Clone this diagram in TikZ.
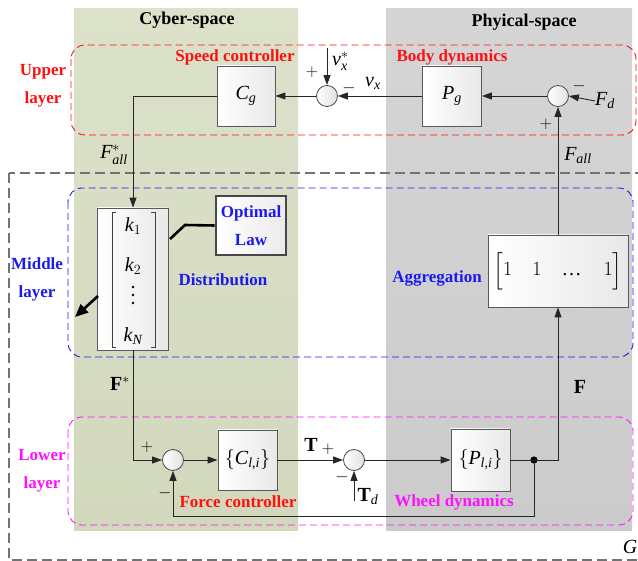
\documentclass[tikz,border=0pt]{standalone}
\usepackage{fix-cm}
\usepackage{amsmath}
\usepackage{fontspec}
\setmainfont{Liberation Serif}
\DeclareSymbolFont{letters}{TU}{\rmdefault}{m}{it}
\DeclareSymbolFont{operators}{TU}{\rmdefault}{m}{n}
\DeclareMathAlphabet{\mathbf}{TU}{\rmdefault}{b}{n}
\newcommand\mcomma{\mathchar"602C}
\usetikzlibrary{arrows.meta,calc}
\definecolor{cybtop}{HTML}{DCE1CA}
\definecolor{cybbot}{HTML}{D2D8BC}
\definecolor{phytop}{HTML}{D5D5D5}
\definecolor{phybot}{HTML}{CBCBCB}
\definecolor{lblred}{HTML}{FF1010}
\definecolor{lblblue}{HTML}{1A1AF0}
\definecolor{lblmag}{HTML}{FF10FF}
\newcommand\mfs{\fontsize{20}{24}\selectfont}
\newcommand\lfs{\fontsize{17}{28}\selectfont}
\begin{document}
\begin{tikzpicture}[x=1pt,y=-1pt,
  titlelbl/.style={font=\bfseries\fontsize{18}{22}\selectfont, inner sep=0pt},
  lbl/.style={font=\bfseries\lfs, inner sep=0pt, align=center},
  mlbl/.style={font=\mfs, inner sep=0pt},
  slbl/.style={font=\fontsize{17}{20}\selectfont, inner sep=0pt},
  blockbox/.style={draw=black!65, line width=0.8pt, left color=white, right color=black!9,
     inner sep=0pt, font=\mfs},
  sumj/.style={circle, draw=black!70, line width=0.8pt, left color=white, right color=black!12,
     minimum size=21pt, inner sep=0pt},
  conn/.style={draw=black!85, line width=0.9pt},
  arr/.style={conn, -{Triangle[length=10pt,width=7pt]}},
  layerbox/.style={dashed, dash pattern=on 7pt off 4pt, line width=0.9pt, rounded corners=14pt},
  gbox/.style={draw=black!55, line width=1.1pt, dash pattern=on 10pt off 5pt},
  brk/.style={draw=black!75, line width=0.8pt}
]
\useasboundingbox (0,0) rectangle (638,561);
% backgrounds
\shade[top color=cybtop,bottom color=cybbot] (74,9) rectangle (298,531);
\shade[top color=phytop,bottom color=phybot] (386,9) rectangle (632,531);
\node[titlelbl] (tcyber) at (187,20) {Cyber-space};
\node[titlelbl] (tphy) at (524,22) {Phyical-space};
% outer G box
\draw[gbox] (9,173) rectangle (660,560);
\node[mlbl] (glbl) at (630,547) {$G$};
% layer boxes
\draw[layerbox,draw=lblred] (71,45) rectangle (636,135);
\draw[layerbox,draw=lblblue] (68,188) rectangle (633,357);
\draw[layerbox,draw=lblmag] (68,417) rectangle (633,525);
% layer labels
\node[lbl,text=lblred] (lup) at (43,86) {Upper\\layer};
\node[lbl,text=lblblue] (lmid) at (37,279) {Middle\\layer};
\node[lbl,text=lblmag] (llow) at (42,471) {Lower\\layer};
% other labels
\node[lbl,text=lblred] (tspeed) at (235,57) {Speed controller};
\node[lbl,text=lblred] (tbody) at (452,57) {Body dynamics};
\node[lbl,text=lblblue] (tdist) at (223,280) {Distribution};
\node[lbl,text=lblblue] (tagg) at (437,278) {Aggregation};
\node[lbl,text=lblred] (tforce) at (238,502) {Force controller};
\node[lbl,text=lblmag] (twheel) at (454,502) {Wheel dynamics};
% upper blocks
\node[blockbox, minimum width=58pt, minimum height=60pt] (cg) at (246,96) {$C_g$};
\node[blockbox, minimum width=59pt, minimum height=60pt] (pg) at (452,96) {$P_g$};
\node[sumj] (s1) at (327,96) {};
\node[sumj] (s2) at (558,96) {};
% middle blocks
\node[blockbox, minimum width=71pt, minimum height=142pt] (kbox) at (133,279) {};
\node[mlbl] (k1) at (133,226) {$k_1$};
\node[mlbl] (k2) at (133,266) {$k_2$};
\fill[black] (133,287) circle (1.4pt) (133,295) circle (1.4pt) (133,303) circle (1.4pt);
\node[mlbl] (kn) at (133,336) {$k_N$};
\draw[brk] (116,212) -- (112,212) -- (112,347) -- (116,347);
\draw[brk] (151,212) -- (155,212) -- (155,347) -- (151,347);
\node[draw=black!72, line width=2.6pt, left color=white, right color=black!8, minimum width=70pt, minimum height=59pt,
   inner sep=0pt, font=\bfseries\fontsize{17}{28}\selectfont, text=lblblue, align=center] (opt) at (251,225.5) {Optimal\\Law};
\node[blockbox, minimum width=140pt, minimum height=72pt] (agg) at (558,271)
   {$\Bigl[1\hspace{20pt}1\hspace{20pt}\mbox{\textellipsis}\hspace{22pt}1\Bigr]$};
% lower blocks
\node[blockbox, minimum width=59pt, minimum height=60pt] (cl) at (247.5,460) {$\left\{C_{l\mcomma i}\right\}$};
\node[blockbox, minimum width=59pt, minimum height=62pt] (pl) at (480.5,460) {$\left\{P_{l\mcomma i}\right\}$};
\node[sumj] (s3) at (173,460) {};
\node[sumj] (s4) at (354,460) {};
\fill[black] (534,460) circle (3.6pt) coordinate (dot);
% coordinates for free ends
\coordinate (vxin) at (327,48);
\coordinate (tdin) at (354,501);
\coordinate (kopt) at (170,239);
\coordinate (kbend) at (185,225);
\coordinate (thkA) at (98,296);
\coordinate (thkB) at (75,317);
\coordinate (fbot) at (534,516);
% labels
\node[mlbl, anchor=west] (fd) at (595,101) {$F_d$};
\node[mlbl, anchor=west] (vxs) at (332,61) {$v_x^{*}$};
\node[mlbl] (vx) at (373,83) {$v_x$};
\node[slbl] (p1) at (312,72) {$+$};
\node[slbl] (m1) at (349,88) {$-$};
\node[slbl] (m2) at (579,86) {$-$};
\node[slbl] (p2) at (546,124) {$+$};
\node[mlbl] (fall) at (578,156) {$F_{all}$};
\node[mlbl] (falls) at (114,155) {$F_{all}^{*}$};
\node[mlbl] (fstar) at (120,384) {$\mathbf{F}^{*}$};
\node[mlbl] (fvec) at (580,387) {$\mathbf{F}$};
\node[slbl] (p3) at (147,447) {$+$};
\node[slbl] (m3) at (165,493) {$-$};
\node[mlbl] (tvec) at (311,445) {$\mathbf{T}$};
\node[slbl] (p4) at (328,449) {$+$};
\node[slbl] (m4) at (342,477) {$-$};
\node[mlbl] (tdl) at (368,497) {$\mathbf{T}_d$};
% connectors upper
\draw[arr] (fd.west) -- (s2.east);
\draw[arr] (s2.west) -- (pg.east);
\draw[arr] (pg.west) -- (s1.east);
\draw[arr] (s1.west) -- (cg.east);
\draw[arr] (vxin) -- (s1.north);
\draw[arr] (cg.west) -| (kbox.north);
\draw[arr] (agg.north) -- (s2.south);
% middle
\draw[draw=black, line width=2.6pt] (kopt) -- (kbend) -- (opt.west);
\draw[draw=black, line width=2.6pt, -{Triangle[length=13pt,width=11pt]}] (thkA) -- (thkB);
% lower
\draw[arr] (kbox.south) |- (s3.west);
\draw[arr] (s3.east) -- (cl.west);
\draw[arr] (cl.east) -- (s4.west);
\draw[arr] (s4.east) -- (pl.west);
\draw[arr] (tdin) -- (s4.south);
\draw[conn] (pl.east) -- (dot);
\draw[arr] (dot) -| (agg.south);
\draw[arr] (dot) -- (fbot) -| (s3.south);
\end{tikzpicture}
\end{document}
